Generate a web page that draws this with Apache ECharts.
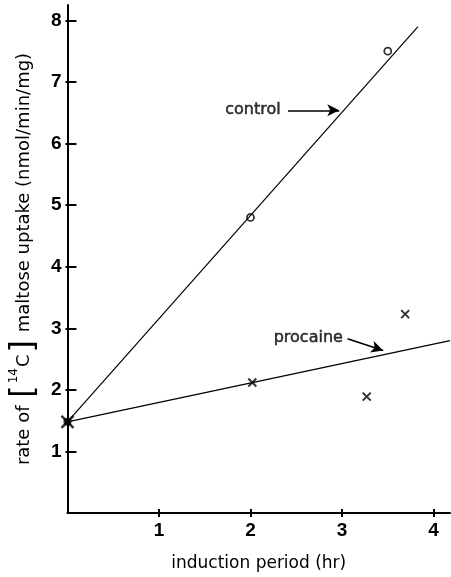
<!DOCTYPE html>
<html>
<head>
<meta charset="utf-8">
<script src="https://cdn.jsdelivr.net/npm/echarts@6/dist/echarts.min.js"></script>
<style>html,body{margin:0;padding:0;background:#fff}#c{width:451px;height:577px}</style>
</head>
<body>
<div id="c"></div>
<script>
// Data
var xTicks = [1, 2, 3, 4];
var yTicks = [1, 2, 3, 4, 5, 6, 7, 8];
var controlPoints = [[2.0, 4.8], [3.5, 7.5]];
var procainePoints = [[2.02, 2.12], [3.27, 1.89], [3.69, 3.23]];
var startPoint = [[0, 1.48]];
var controlLine = [[0, 1.48], [3.83, 7.9]];
var procaineLine = [[0, 1.48], [4.18, 2.8]];
var labelNames = ['control', 'procaine'];
var labelAnchors = [[2.33, 6.54], [3.01, 2.85]];
var arrowStarts = [[2.41, 6.54], [3.06, 2.83]];
var arrowEnds = [[2.97, 6.54], [3.45, 2.64]];

var FONT = 'DejaVu Sans';
var TICKFONT = 'Liberation Sans';
var crossPath = 'path://M0,0L10,10M10,0L0,10';

var chart = echarts.init(document.getElementById('c'), null, {renderer: 'canvas'});

function intLabel(v) { return (v > 0 && Math.abs(v - Math.round(v)) < 1e-9) ? String(Math.round(v)) : ''; }

var labelData = labelAnchors.map(function (p, i) { return {value: p, name: labelNames[i]}; });
var arrowData = arrowStarts.map(function (p, i) { return [{coord: p}, {coord: arrowEnds[i]}]; });

var option = {
  backgroundColor: '#fff',
  animation: false,
  grid: {left: 66.6, right: 1, top: 5, bottom: 57, containLabel: false},
  xAxis: [{
    type: 'value', min: 0, max: 4.18,
    axisLine: {show: true, lineStyle: {color: '#000', width: 2}},
    axisTick: {show: true, inside: true, length: 4, customValues: xTicks, lineStyle: {color: '#000', width: 2}},
    axisLabel: {show: true, customValues: xTicks, formatter: intLabel, margin: 8, color: '#000', fontFamily: TICKFONT, fontSize: 19, fontWeight: 'bold'},
    splitLine: {show: false},
    name: 'induction period (hr)', nameLocation: 'middle', nameGap: 42,
    nameTextStyle: {color: '#000', fontFamily: FONT, fontSize: 17}
  }, {
    type: 'value', min: 0, max: 4.18, position: 'bottom',
    axisLine: {show: false},
    axisTick: {show: true, inside: false, length: 4, customValues: xTicks, lineStyle: {color: '#000', width: 2}},
    axisLabel: {show: false}, splitLine: {show: false}
  }],
  yAxis: [{
    type: 'value', min: 0, max: 8.25,
    axisLine: {show: true, lineStyle: {color: '#000', width: 2}},
    axisTick: {show: true, inside: true, length: 9, customValues: yTicks, lineStyle: {color: '#000', width: 2}},
    axisLabel: {show: true, customValues: yTicks, formatter: intLabel, margin: 6, color: '#000', fontFamily: TICKFONT, fontSize: 19, fontWeight: 'bold'},
    splitLine: {show: false},
    name: '{t|rate of }{b|[}{s|14}{t|C}{b|]}{t| maltose uptake (nmol/min/mg)}', nameLocation: 'middle', nameGap: 27,
    nameTextStyle: {color: '#000', fontFamily: FONT, fontSize: 18,
      rich: {t: {fontFamily: FONT, fontSize: 18, color: '#000'},
             s: {fontFamily: FONT, fontSize: 12, color: '#000', verticalAlign: 'top', padding: [0, 1, 8, 0]},
             b: {fontFamily: FONT, fontSize: 32, color: '#000', padding: [0, 2, 0, 2]}}}
  }, {
    type: 'value', min: 0, max: 8.25, position: 'left',
    axisLine: {show: false},
    axisTick: {show: true, inside: false, length: 2, customValues: yTicks, lineStyle: {color: '#000', width: 2}},
    axisLabel: {show: false}, splitLine: {show: false}
  }],
  series: [
    {type: 'line', data: controlLine, symbol: 'none', lineStyle: {color: '#000', width: 1.2}, silent: true},
    {type: 'line', data: procaineLine, symbol: 'none', lineStyle: {color: '#000', width: 1.2}, silent: true,
     markLine: {
       silent: true, symbol: ['none', 'arrow'], symbolSize: [9, 12],
       lineStyle: {color: '#000', width: 1.6, type: 'solid'},
       label: {show: false}, emphasis: {disabled: true},
       data: arrowData
     }},
    {type: 'scatter', data: controlPoints, symbol: 'circle', symbolSize: 7,
     itemStyle: {color: '#fff', borderColor: '#000', borderWidth: 1.8}},
    {type: 'scatter', data: procainePoints, symbol: crossPath, symbolSize: 8,
     itemStyle: {color: 'none', borderColor: '#000', borderWidth: 2}},
    {type: 'scatter', data: startPoint, symbol: 'circle', symbolSize: 8, itemStyle: {color: '#000'}},
    {type: 'scatter', data: startPoint, symbol: crossPath, symbolSize: 12,
     itemStyle: {color: 'none', borderColor: '#000', borderWidth: 2.5}},
    {type: 'scatter', data: labelData, symbol: 'circle', symbolSize: 0.1, silent: true,
     itemStyle: {color: '#fff'},
     label: {show: true, position: 'left', distance: 0, formatter: '{b}', color: '#000', fontFamily: FONT, fontSize: 16,
             textBorderColor: '#000', textBorderWidth: 0.5}}
  ]
};
chart.setOption(option);
</script>
</body>
</html>
